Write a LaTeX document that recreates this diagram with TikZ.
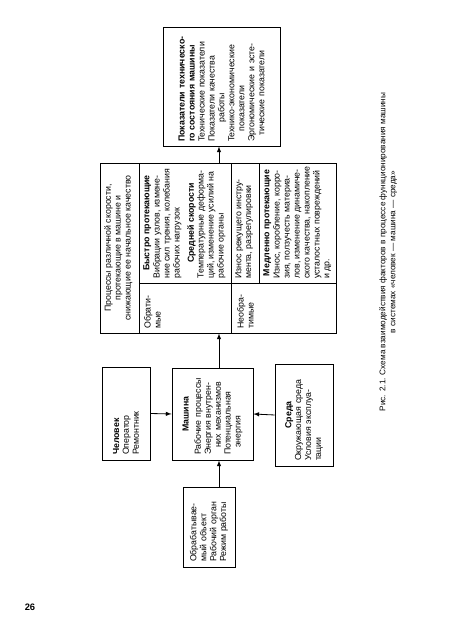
\documentclass[tikz,border=0pt]{standalone}
\usepackage{fontspec}
\setmainfont{Liberation Sans}

\newcommand{\txtsize}{\fontsize{7.5}{8.5}\selectfont}
\newcommand{\capsize}{\fontsize{7}{8.5}\selectfont}

\begin{document}
\begin{tikzpicture}[x=0.03cm, y=0.03cm,
    box/.style={draw, line width=0.7pt, inner xsep=0.15cm, inner ysep=2pt, align=left, font=\txtsize},
    txt/.style={inner sep=0pt, align=left, font=\txtsize},
    sep/.style={line width=0.7pt},
    arr/.style={-latex, line width=0.7pt}]
  \tikzstyle{every node}+=[inner sep=0pt]
  \useasboundingbox (-450,0) rectangle (0,618);
  \fill[white] (-450,0) rectangle (0,618);
  \node[font=\bfseries\fontsize{8}{9}\selectfont] (pagenum) at (-420,11) {26};
  \begin{scope}[rotate=90, transform shape]
    % input boxes
    \node[box, text width=2.1cm, minimum height=1.56cm] (obj) at (91,241)
      {Обрабатывае-\\мый объект\\Рабочий орган\\Режим работы};
    \node[box, text width=2.49cm, minimum height=1.44cm] (chel) at (204.5,324)
      {\textbf{Человек}\\Оператор\\Ремонтник};
    \node[box, text width=2.46cm, minimum height=2.43cm] (mash) at (204,237.5)
      {\makebox[\linewidth]{\textbf{Машина}}\\[2pt]Рабочие процессы\\Энергия внутрен-\\\hspace*{0.8em}них механизмов\\Потенциальная\\\hspace*{0.8em}энергия};
    \node[box, text width=2.76cm, minimum height=1.74cm] (sreda) at (203,146)
      {\makebox[\linewidth]{\textbf{Среда}}\\Окружающая среда\\Условия эксплуа-\\тации};
    % processes
    \node[draw, line width=0.7pt, minimum width=5.1cm, minimum height=7.08cm] (proc) at (370,232) {};
    \draw[sep] (285,311) -- (455,311);
    \draw[sep] (335,311) -- (335,114);
    \draw[sep] (285,219) -- (455,219);
    \draw[sep] (335,191) -- (455,191);
    \node[txt, align=center, anchor=north] (head) at (370,346)
      {Процессы различной скорости,\\протекающие в машине и\\снижающие ее начальное качество};
    \node[txt, anchor=north west] (obr) at (289,306) {Обрати-\\мые};
    \node[txt, anchor=north west] (neobr) at (289,213) {Необра-\\тимые};
    \node[txt, anchor=north] (fasthd) at (395,307) {\textbf{Быстро протекающие}};
    \node[txt, anchor=north west] (fast) at (339,297)
      {Вибрации узлов, измене-\\ние сил трения, колебания\\рабочих нагрузок};
    \node[txt, anchor=north] (medhd) at (395,263) {\textbf{Средней скорости}};
    \node[txt, anchor=north west] (med) at (339,253)
      {Температурные деформа-\\ций, изменение усилий на\\рабочие органы};
    \node[txt, anchor=north west] (wear) at (339,215)
      {Износ режущего инстру-\\мента, разрегулировки};
    \node[txt, anchor=north] (slowhd) at (395,187) {\textbf{Медленно протекающие}};
    \node[txt, anchor=north west] (slow) at (339,177)
      {Износ, коробление, корро-\\зия, ползучесть материа-\\лов, изменение динамиче-\\ского качества, накопление\\усталостных повреждений\\и др.};
    % indicators
    \node[box, inner xsep=0.12cm, text width=3.33cm, minimum height=3.51cm] (pokaz) at (531.5,228.5)
      {\textbf{Показатели техническо-}\\\textbf{го состояния машины}\\Технические показатели\\Показатели качества\\\hspace*{2.2em}работы\\Технико-экономические\\\hspace*{1.2em}показатели\\Эргономические и эсте-\\\hspace*{0.7em}тические показатели};
    % connectors
    \coordinate (axis) at (0,231);
    \draw[arr] (obj.east |- axis) -- (mash.west |- axis);
    \draw[arr] (chel.south) -- (mash.north);
    \draw[arr] (sreda.north) -- (mash.south);
    \draw[arr] (mash.east |- axis) -- (proc.west |- axis);
    \draw[arr] (proc.east |- axis) -- (pokaz.west |- axis);
    % caption
    \node[txt, align=center, anchor=north, font=\capsize] (cap) at (366,71)
      {Рис. 2.1. Схема взаимодействия факторов в процессе функционирования машины\\в системах «человек — машина — среда»};
  \end{scope}
\end{tikzpicture}
\end{document}
